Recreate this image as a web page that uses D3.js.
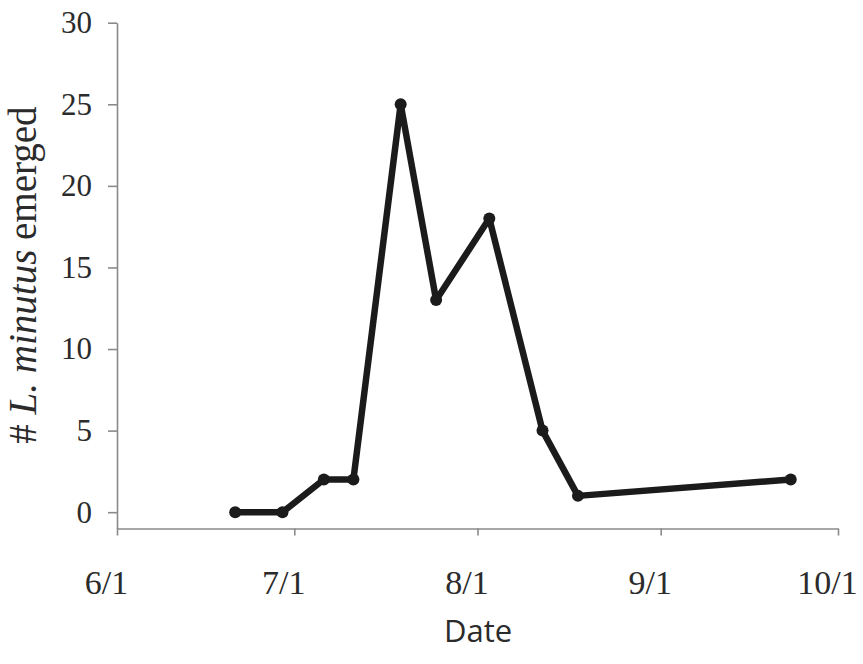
<!DOCTYPE html>
<html>
<head>
<meta charset="utf-8">
<script src="https://cdn.jsdelivr.net/npm/d3@7"></script>
<style>
  body { margin: 0; background: #fff; }
  svg { display: block; }
</style>
</head>
<body>
<div id="chart"></div>
<script>
'use strict';

// emergence dates and counts
var dates = ['2012-06-21', '2012-06-29', '2012-07-06', '2012-07-11', '2012-07-19',
             '2012-07-25', '2012-08-03', '2012-08-12', '2012-08-18', '2012-09-23'];
var counts = [0, 0, 2, 2, 25, 13, 18, 5, 1, 2];
var xTicks = ['2012-06-01', '2012-07-01', '2012-08-01', '2012-09-01', '2012-10-01'];
var yTicks = [0, 5, 10, 15, 20, 25, 30];

var width = 863;
var height = 664;
var parse = d3.utcParse('%Y-%m-%d');
var fmt = d3.utcFormat('%-m/%-d');

var data = dates.map(function(d, i){ return {date: parse(d), value: counts[i]}; });

var x = d3.scaleUtc()
	.domain([parse(xTicks[0]), parse(xTicks[xTicks.length - 1])])
	.range([117, 838]);

var y = d3.scaleLinear()
	.domain([-1, 30])
	.range([528.5, 22.7]);

var svg = d3.select('#chart').append('svg')
	.attr('width', width)
	.attr('height', height);

var axisColor = '#8a8a8a';
var textColor = '#2b2b2b';
var serif = '"Liberation Serif", "Times New Roman", serif';

// x axis
var gx = svg.append('g')
	.attr('transform', 'translate(0,' + y(-1) + ')')
	.call(d3.axisBottom(x)
		.tickValues(xTicks.map(parse))
		.tickFormat(fmt)
		.tickSize(7)
		.tickSizeOuter(0));
gx.select('.domain').attr('stroke', axisColor).attr('stroke-width', 1.6);
gx.selectAll('.tick line').attr('stroke', axisColor).attr('stroke-width', 1.6);
gx.selectAll('.tick text')
	.attr('fill', textColor)
	.attr('dy', null)
	.attr('y', 65)
	.attr('dx', -11)
	.style('font-family', serif)
	.style('font-size', '34px');

// y axis
var gy = svg.append('g')
	.attr('transform', 'translate(' + x.range()[0] + ',0)')
	.call(d3.axisLeft(y)
		.tickValues(yTicks)
		.tickSize(9)
		.tickSizeOuter(0));
gy.select('.domain').attr('stroke', axisColor).attr('stroke-width', 1.6);
gy.selectAll('.tick line').attr('stroke', axisColor).attr('stroke-width', 1.6);
gy.selectAll('.tick text')
	.attr('fill', textColor)
	.attr('x', -25)
	.style('font-family', serif)
	.style('font-size', '31px');

// series line
var line = d3.line()
	.x(function(d){ return x(d.date); })
	.y(function(d){ return y(d.value); });

svg.append('path')
	.datum(data)
	.attr('d', line)
	.style('fill', 'none')
	.style('stroke', '#1b1b1b')
	.style('stroke-width', 6.5)
	.style('stroke-linejoin', 'round');

svg.selectAll('circle.pt')
	.data(data)
	.enter().append('circle')
		.attr('class', 'pt')
		.attr('cx', function(d){ return x(d.date); })
		.attr('cy', function(d){ return y(d.value); })
		.attr('r', 6)
		.style('fill', '#1b1b1b');

// axis titles
svg.append('text')
	.attr('x', 478)
	.attr('y', 642)
	.attr('text-anchor', 'middle')
	.attr('fill', textColor)
	.style('font-family', '"Open Sans", sans-serif')
	.style('font-size', '31px')
	.text('Date');

var yTitle = svg.append('text')
	.attr('transform', 'translate(36,275) rotate(-90)')
	.attr('text-anchor', 'middle')
	.attr('fill', textColor)
	.style('font-family', serif)
	.style('font-size', '39px');
yTitle.append('tspan').text('# ');
yTitle.append('tspan').style('font-style', 'italic').text('L. minutus');
yTitle.append('tspan').text(' emerged');
</script>
</body>
</html>
